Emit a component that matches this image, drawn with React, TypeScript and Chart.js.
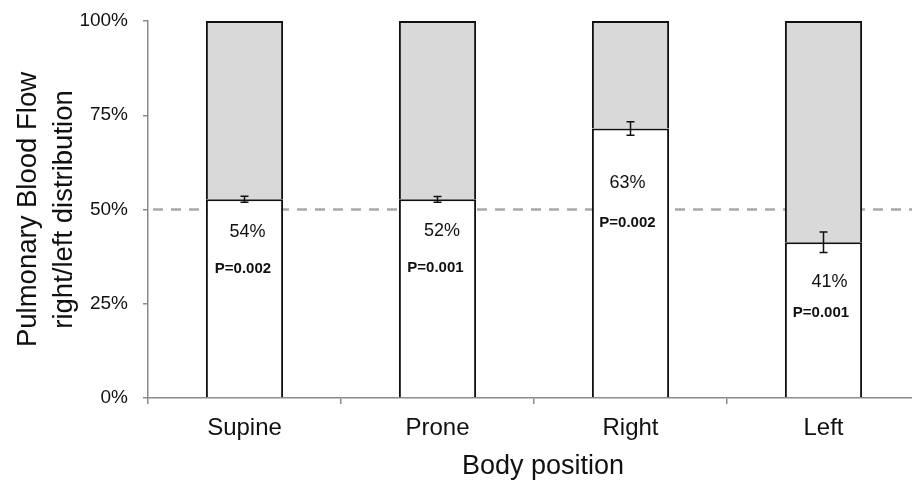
import React, { useEffect, useRef } from 'react';
import { Chart, registerables } from 'chart.js';

Chart.register(...registerables);

const categories = ['Supine', 'Prone', 'Right', 'Left'];
const rightShare = [52.7, 52.7, 71.5, 41.3];
const leftShare = [47.3, 47.3, 28.5, 58.7];
const rightError = [0.8, 0.75, 1.8, 2.7];
const percentLabels = ['54%', '52%', '63%', '41%'];
const pLabels = ['P=0.002', 'P=0.001', 'P=0.002', 'P=0.001'];
const referenceLine = 50;
const yMin = 0;
const yMax = 100;
const yStep = 25;
const xTitle = 'Body position';
const yTitle = ['Pulmonary Blood Flow', 'right/left distribution'];

// label offsets in pixels relative to (bar centre, top of white segment)
const percentOffsets = [[3, 33], [4.5, 32], [-3, 55], [6, 40]];
const pOffsets = [[-1.5, 70], [-2, 69], [-3, 94], [-2.5, 71]];

const FONT = "'Liberation Sans', Arial, Helvetica, sans-serif";
const AXIS = '#8a8a8a';

const refLinePlugin = {
  id: 'refLine',
  beforeDatasetsDraw(chart: any) {
    const { ctx, chartArea, scales } = chart;
    const y = scales.y.getPixelForValue(referenceLine);
    ctx.save();
    ctx.strokeStyle = '#a9a9a9';
    ctx.lineWidth = 2.5;
    ctx.setLineDash([10, 8]);
    ctx.beginPath();
    ctx.moveTo(chartArea.left + 5, y);
    ctx.lineTo(chart.width, y);
    ctx.stroke();
    ctx.restore();
  },
};

const annotatePlugin = {
  id: 'annotate',
  afterDatasetsDraw(chart: any) {
    const { ctx, scales, chartArea } = chart;
    const meta = chart.getDatasetMeta(0);
    ctx.save();
    meta.data.forEach((bar: any, i: number) => {
      const x = bar.x;
      const v = rightShare[i];
      const e = rightError[i];
      const yTop = scales.y.getPixelForValue(v);
      const y1 = scales.y.getPixelForValue(v + e);
      const y2 = scales.y.getPixelForValue(v - e);
      ctx.strokeStyle = '#111';
      ctx.lineWidth = 1.5;
      ctx.setLineDash([]);
      ctx.beginPath();
      ctx.moveTo(x, y1);
      ctx.lineTo(x, y2);
      ctx.moveTo(x - 4, y1);
      ctx.lineTo(x + 4, y1);
      ctx.moveTo(x - 4, y2);
      ctx.lineTo(x + 4, y2);
      ctx.stroke();

      ctx.fillStyle = '#111';
      ctx.textAlign = 'center';
      ctx.textBaseline = 'middle';
      ctx.font = `18px ${FONT}`;
      ctx.fillText(percentLabels[i], x + percentOffsets[i][0], yTop + percentOffsets[i][1]);
      ctx.font = `bold 15px ${FONT}`;
      ctx.fillText(pLabels[i], x + pOffsets[i][0], yTop + pOffsets[i][1]);
    });
    // x-axis title
    ctx.font = `27px ${FONT}`;
    ctx.fillStyle = '#111';
    ctx.textAlign = 'center';
    ctx.textBaseline = 'middle';
    ctx.fillText(xTitle, (chartArea.left + chartArea.right) / 2 + 9, chartArea.bottom + 69);
    ctx.restore();
  },
};

export default function App() {
  const ref = useRef<HTMLCanvasElement | null>(null);

  useEffect(() => {
    if (!ref.current) return;
    const chart = new Chart(ref.current, {
      type: 'bar',
      data: {
        labels: categories,
        datasets: [
          {
            label: 'Right',
            data: rightShare,
            backgroundColor: '#ffffff',
            borderColor: '#111111',
            borderWidth: 2,
            borderSkipped: 'bottom',
            barPercentage: 0.4,
            categoryPercentage: 1,
          },
          {
            label: 'Left',
            data: leftShare,
            backgroundColor: '#d9d9d9',
            borderColor: '#111111',
            borderWidth: 2,
            borderSkipped: 'bottom',
            barPercentage: 0.4,
            categoryPercentage: 1,
          },
        ],
      },
      options: {
        responsive: false,
        animation: false,
        devicePixelRatio: 1,
        layout: { padding: { top: 21, right: 10, left: 0, bottom: 0 } },
        plugins: {
          legend: { display: false },
          tooltip: { enabled: false },
        },
        scales: {
          x: {
            stacked: true,
            grid: {
              display: true,
              drawOnChartArea: false,
              drawTicks: true,
              tickLength: 6,
              color: AXIS,
              lineWidth: 1.5,
              offset: true,
            },
            border: { display: true, color: AXIS, width: 1.5 },
            ticks: {
              color: '#111',
              padding: 10,
              font: { family: FONT, size: 24 },
            },
            afterFit(scale: any) {
              scale.height = 86;
              scale.paddingLeft = 0;
              scale.paddingRight = 0;
            },
          },
          y: {
            stacked: true,
            min: yMin,
            max: yMax,
            grid: {
              display: true,
              drawOnChartArea: false,
              drawTicks: true,
              tickLength: 5,
              color: AXIS,
              lineWidth: 1.5,
            },
            border: { display: true, color: AXIS, width: 1.5 },
            ticks: {
              stepSize: yStep,
              color: '#111',
              padding: 15,
              font: { family: FONT, size: 19 },
              callback: (v: any) => `${v}%`,
            },
            title: {
              display: true,
              text: yTitle,
              color: '#111',
              font: { family: FONT, size: 27.5, lineHeight: 1.3 },
              padding: { top: 11, bottom: 0 },
            },
            afterFit(scale: any) {
              scale.width = 148;
              scale.paddingTop = 0;
              scale.paddingBottom = 0;
            },
          },
        },
      },
      plugins: [refLinePlugin, annotatePlugin],
    });
    return () => chart.destroy();
  }, []);

  return (
    <div
      style={{
        position: 'fixed',
        left: 0,
        top: 0,
        width: 912,
        height: 484,
        overflow: 'hidden',
        background: '#fff',
      }}
    >
      <canvas ref={ref} width={930} height={484} style={{ width: 930, height: 484, display: 'block' }} />
    </div>
  );
}
